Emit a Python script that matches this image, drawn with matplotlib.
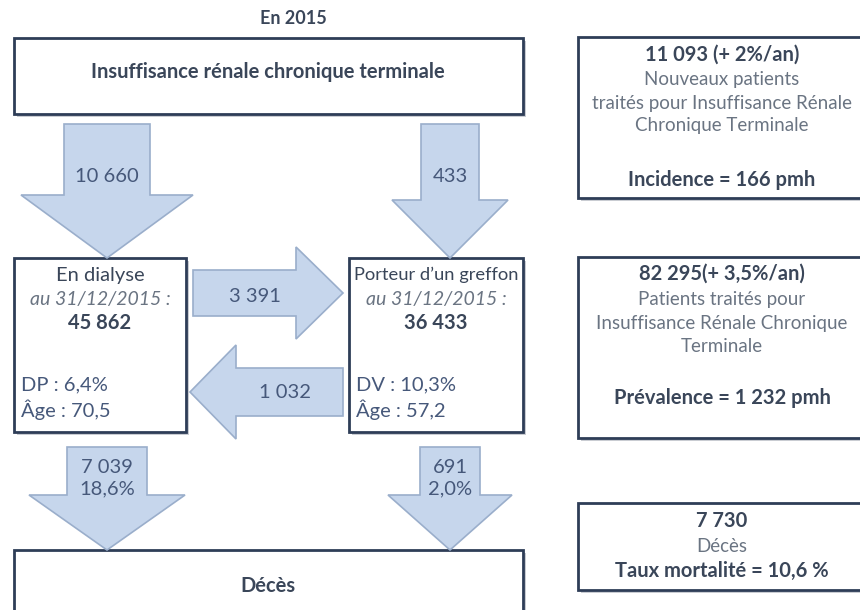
import matplotlib.pyplot as plt
from matplotlib.patches import Rectangle, Polygon

plt.rcParams['font.family'] = ['Lato', 'DejaVu Sans']

# ---- content ----
year_title = "En 2015"
main_title = "Insuffisance rénale chronique terminale"
death_title = "Décès"

dialyse_lines = ["En dialyse", "au 31/12/2015 :", "45 862"]
dialyse_stats = ["DP : 6,4%", "Âge : 70,5"]
greffe_lines = ["Porteur d’un greffon", "au 31/12/2015 :", "36 433"]
greffe_stats = ["DV : 10,3%", "Âge : 57,2"]

incidence_flows = ["10 660", "433"]
transfer_flows = ["3 391", "1 032"]
death_flows = ["7 039\n18,6%", "691\n2,0%"]

incidence_box = ["11 093 (+ 2%/an)", "Nouveaux patients",
                 "traités pour Insuffisance Rénale", "Chronique Terminale",
                 "Incidence = 166 pmh"]
prevalence_box = ["82 295(+ 3,5%/an)", "Patients traités pour",
                  "Insuffisance Rénale Chronique", "Terminale",
                  "Prévalence = 1 232 pmh"]
mortality_box = ["7 730", "Décès", "Taux mortalité = 10,6 %"]

# ---- style ----
EDGE = '#2e3d57'
SHADOW = '#c9ccd2'
ARROW_FILL = '#c6d6ec'
ARROW_EDGE = '#9aaecb'
DARK = '#3a4659'
GREY = '#6a7482'
BLUE_TXT = '#46587a'
FS = 14.5


def box(ax, x0, y0, x1, y1):
    ax.add_patch(Rectangle((x0 + 3, y0 + 3), x1 - x0, y1 - y0,
                           facecolor=SHADOW, edgecolor='none', zorder=1))
    ax.add_patch(Rectangle((x0, y0), x1 - x0, y1 - y0, facecolor='white',
                           edgecolor=EDGE, linewidth=2, zorder=2))


def down_arrow(ax, cx, shaft, head, y_top, y_head, y_tip):
    pts = [(cx - shaft, y_top), (cx + shaft, y_top), (cx + shaft, y_head),
           (cx + head, y_head), (cx, y_tip), (cx - head, y_head),
           (cx - shaft, y_head)]
    ax.add_patch(Polygon(pts, closed=True, facecolor=ARROW_FILL,
                         edgecolor=ARROW_EDGE, linewidth=1.2, zorder=3))


def side_arrow(ax, x_tail, x_head, x_tip, cy, shaft, head):
    pts = [(x_tail, cy - shaft), (x_head, cy - shaft), (x_head, cy - head),
           (x_tip, cy), (x_head, cy + head), (x_head, cy + shaft),
           (x_tail, cy + shaft)]
    ax.add_patch(Polygon(pts, closed=True, facecolor=ARROW_FILL,
                         edgecolor=ARROW_EDGE, linewidth=1.2, zorder=3))


fig = plt.figure(figsize=(8.6, 6.1), dpi=100)
ax = fig.add_axes([0, 0, 1, 1])
ax.set_xlim(0, 860)
ax.set_ylim(610, 0)
ax.axis('off')

# top
ax.text(293, 18, year_title, ha='center', va='center', fontsize=13,
        fontweight='bold', color=DARK)
box(ax, 14, 38, 523, 114)
ax.text(268, 72, main_title, ha='center', va='center', fontsize=FS,
        fontweight='bold', color=DARK, zorder=4)

# incidence arrows
down_arrow(ax, 107, 43, 86, 124, 195, 258)
down_arrow(ax, 450, 29, 58, 124, 200, 258)
ax.text(107, 176, incidence_flows[0], ha='center', va='center',
        fontsize=FS, color=BLUE_TXT, zorder=4)
ax.text(450, 176, incidence_flows[1], ha='center', va='center',
        fontsize=FS, color=BLUE_TXT, zorder=4)

# middle boxes
for x0, x1, lines, stats, fs0 in [(14, 186, dialyse_lines, dialyse_stats, FS),
                                  (349, 523, greffe_lines, greffe_stats, 13.2)]:
    box(ax, x0, 258, x1, 432)
    cx = (x0 + x1) / 2
    ax.text(cx, 275, lines[0], ha='center', va='center', fontsize=fs0,
            color=DARK, zorder=4)
    ax.text(cx, 299, lines[1], ha='center', va='center', fontsize=14,
            style='italic', color=GREY, zorder=4)
    ax.text(cx, 323, lines[2], ha='center', va='center', fontsize=FS,
            fontweight='bold', color=DARK, zorder=4)
    ax.text(x0 + 7, 385, stats[0], ha='left', va='center', fontsize=FS,
            color=BLUE_TXT, zorder=4)
    ax.text(x0 + 7, 410, stats[1], ha='left', va='center', fontsize=FS,
            color=BLUE_TXT, zorder=4)

# transfer arrows
side_arrow(ax, 193, 296, 343, 293, 23, 46)
side_arrow(ax, 343, 236, 190, 392, 24, 47)
ax.text(255, 296, transfer_flows[0], ha='center', va='center',
        fontsize=FS, color=BLUE_TXT, zorder=4)
ax.text(285, 392, transfer_flows[1], ha='center', va='center',
        fontsize=FS, color=BLUE_TXT, zorder=4)

# death arrows
down_arrow(ax, 107, 40, 78, 447, 495, 550)
down_arrow(ax, 450, 30, 62, 447, 495, 550)
ax.text(107, 478, death_flows[0], ha='center', va='center', fontsize=FS,
        color=BLUE_TXT, linespacing=1.3, zorder=4)
ax.text(450, 478, death_flows[1], ha='center', va='center', fontsize=FS,
        color=BLUE_TXT, linespacing=1.3, zorder=4)

# death box
box(ax, 14, 550, 523, 640)
ax.text(268, 586, death_title, ha='center', va='center', fontsize=FS,
        fontweight='bold', color=DARK, zorder=4)

# right column
rx0, rx1, rcx = 578, 880, 722
box(ax, rx0, 37, rx1, 198)
for y, txt, bold in zip([55, 79, 103, 126, 180], incidence_box,
                        [True, False, False, False, True]):
    ax.text(rcx, y, txt, ha='center', va='center',
            fontsize=FS if bold else 13.5,
            fontweight='bold' if bold else 'normal',
            color=DARK if bold else GREY, zorder=4)

box(ax, rx0, 257, rx1, 438)
for y, txt, bold in zip([274, 299, 323, 346, 398], prevalence_box,
                        [True, False, False, False, True]):
    ax.text(rcx, y, txt, ha='center', va='center',
            fontsize=FS if bold else 13.5,
            fontweight='bold' if bold else 'normal',
            color=DARK if bold else GREY, zorder=4)

box(ax, rx0, 503, rx1, 590)
for y, txt, bold in zip([521, 547, 571], mortality_box, [True, False, True]):
    ax.text(rcx, y, txt, ha='center', va='center',
            fontsize=FS if bold else 13.5,
            fontweight='bold' if bold else 'normal',
            color=DARK if bold else GREY, zorder=4)

fig.savefig('out.png', dpi=100)
